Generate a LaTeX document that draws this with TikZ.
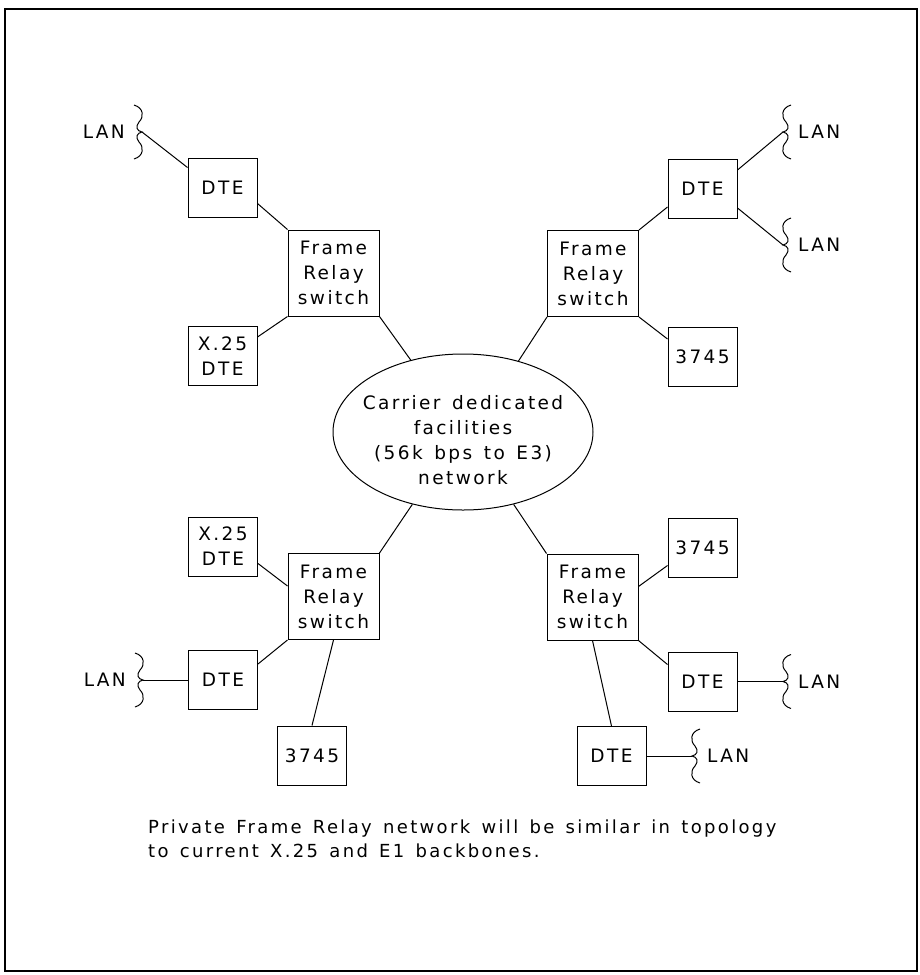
\documentclass[tikz,border=0pt]{standalone}
\usepackage{fontspec}
\setmainfont{DejaVu Sans}[LetterSpace=13,WordSpace=1.4]
\usepackage{tikz}
\usetikzlibrary{positioning,shapes.geometric}

\tikzset{
  box/.style={draw, line width=1pt, minimum width=69pt, minimum height=59pt, inner sep=0pt, align=center},
  frbox/.style={box, minimum width=91pt, minimum height=86pt},
  link/.style={line width=1pt},
  lanlabel/.style={inner sep=0pt},
  lan wave/.pic={
    \draw[line width=1pt] (-8,-27) .. controls (2,-24) and (2,-15) .. (-3,-10)
      .. controls (-7,-5) and (-5,-1) .. (0,0)
      .. controls (-5,1) and (-7,5) .. (-3,10)
      .. controls (2,15) and (2,24) .. (-8,27);
  }
}

\begin{document}
\begin{tikzpicture}[x=1pt, y=-1pt, font=\fontsize{18.5}{25}\selectfont]
    \useasboundingbox (0,0) rectangle (920,975);
    \draw[line width=1.2pt] (5,9) rectangle (917,971);

    % central network
    \node[draw, line width=1pt, ellipse, minimum width=260pt, minimum height=156pt, inner sep=0pt]
      (net) at (463,432) {};
    \node[align=center, inner sep=0pt] (nettext) at ([yshift=-8pt]net.center)
      {Carrier dedicated\\facilities\\(56k bps to E3)\\network};

    % top left
    \node[box] (dte1) at (222.5,187.5) {DTE};
    \node[frbox] (fr1) at (333.5,273) {Frame\\Relay\\switch};
    \node[box] (x25a) at (222.5,356) {X.25\\DTE};
    \coordinate (lan1) at (142,132);
    \pic at (lan1) {lan wave};
    \node[lanlabel, left=17pt of lan1] {LAN};
    \draw[link] (lan1) -- ([yshift=-10pt]dte1.north west);
    \draw[link] ([yshift=14pt]dte1.south east) -- (fr1.north west);
    \draw[link] ([yshift=-11pt]x25a.north east) -- (fr1.south west);
    \draw[link] (fr1.south east) -- (net.126);

    % top right
    \node[frbox] (fr2) at (593,273.5) {Frame\\Relay\\switch};
    \node[box] (dte2) at (702.5,189) {DTE};
    \node[box] (ibm2) at (702.5,357) {3745};
    \coordinate (lan2) at (783,132);
    \coordinate (lan3) at (783,245);
    \pic[xscale=-1] at (lan2) {lan wave};
    \pic[xscale=-1] at (lan3) {lan wave};
    \node[lanlabel, right=15pt of lan2] {LAN};
    \node[lanlabel, right=15pt of lan3] {LAN};
    \draw[link] (fr2.north east) -- ([yshift=12pt]dte2.south west);
    \draw[link] ([yshift=-11pt]dte2.north east) -- (lan2);
    \draw[link] ([yshift=11pt]dte2.south east) -- (lan3);
    \draw[link] (fr2.south east) -- ([yshift=-12pt]ibm2.north west);
    \draw[link] (fr2.south west) -- (net.52);

    % bottom left
    \node[frbox] (fr3) at (333.5,596.5) {Frame\\Relay\\switch};
    \node[box] (x25b) at (223,546.5) {X.25\\DTE};
    \node[box] (dte3) at (223,680) {DTE};
    \node[box] (ibm3) at (312,755.5) {3745};
    \coordinate (lan4) at (143,680);
    \pic at (lan4) {lan wave};
    \node[lanlabel, left=17pt of lan4] {LAN};
    \draw[link] (net.235) -- (fr3.north east);
    \draw[link] ([yshift=13pt]x25b.south east) -- ([yshift=-33pt]fr3.north west);
    \draw[link] ([yshift=-14pt]dte3.north east) -- (fr3.south west);
    \draw[link] (lan4) -- (dte3.west);
    \draw[link] (fr3.south) -- (ibm3.north);

    % bottom right
    \node[frbox] (fr4) at (592.5,597) {Frame\\Relay\\switch};
    \node[box] (ibm4) at (702.5,547.5) {3745};
    \node[box] (dte4) at (702.5,681.5) {DTE};
    \node[box] (dte5) at (611.5,756) {DTE};
    \coordinate (lan5) at (783,681.5);
    \coordinate (lan6) at (692,756);
    \pic[xscale=-1] at (lan5) {lan wave};
    \pic[xscale=-1] at (lan6) {lan wave};
    \node[lanlabel, right=15pt of lan5] {LAN};
    \node[lanlabel, right=15pt of lan6] {LAN};
    \draw[link] (net.305) -- (fr4.north west);
    \draw[link] ([yshift=-33pt]fr4.north east) -- ([yshift=12pt]ibm4.south west);
    \draw[link] (fr4.south east) -- ([yshift=-13pt]dte4.north west);
    \draw[link] (dte4.east) -- (lan5);
    \draw[link] (fr4.south) -- (dte5.north);
    \draw[link] (dte5.east) -- (lan6);

    % caption
    \node[anchor=north west, align=left, inner sep=0pt, font=\fontsize{18}{24}\selectfont] (note) at (148,820)
      {Private Frame Relay network will be similar in topology\\to current X.25 and E1 backbones.};
\end{tikzpicture}
\end{document}
